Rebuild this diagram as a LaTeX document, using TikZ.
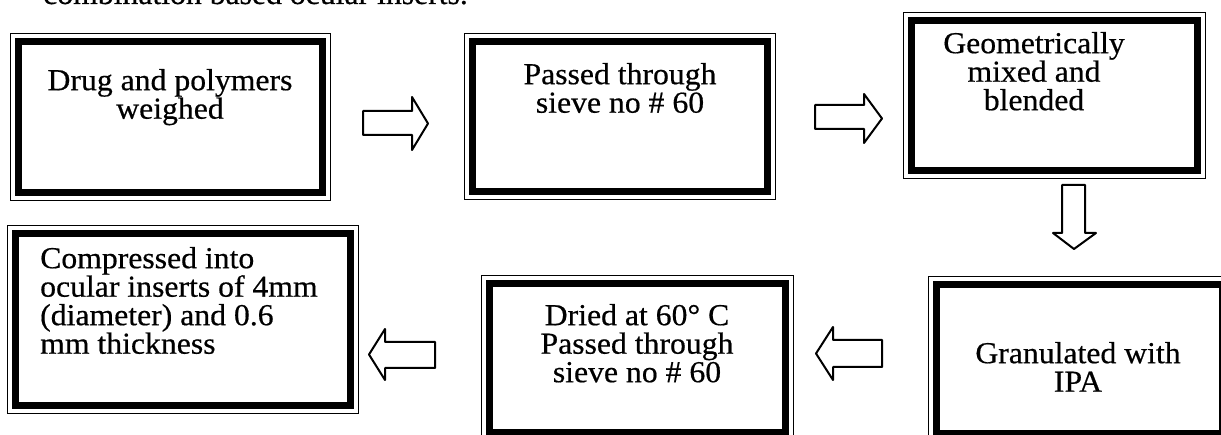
\documentclass[tikz,border=0pt]{standalone}
\usepackage{fontspec}
\setmainfont{Liberation Serif}[FakeStretch=1.04,FakeBold=0.5]
\tikzset{
  outerbox/.style={draw, line width=1.4pt, inner sep=0pt, anchor=north west},
  thickline/.style={line width=7pt},
  lbl/.style={inner sep=0pt, anchor=north, align=center, font=\fontsize{30.5}{28.5}\selectfont},
  blockarrow/.style={draw, line width=2pt, line join=round, fill=white},
}
\newcommand{\fs}{\rule{0pt}{22pt}}
\newcommand{\innerframe}[1]{\draw[thickline] ([shift={(8.5,8.5)}]#1.north west) rectangle ([shift={(-8.5,-8.5)}]#1.south east);}
\begin{document}
\begin{tikzpicture}[x=1pt,y=-1pt]
\useasboundingbox (0,0) rectangle (1221,435);
\begin{scope}
\clip (0,0) rectangle (1221,435);
% partial heading
\node[inner sep=0pt, anchor=base west, font=\fontsize{30.5}{28.5}\selectfont] (hdr) at (43,4) {combination based ocular inserts.};
% boxes
\node[outerbox, minimum width=320pt, minimum height=167pt] (b1) at (10,33) {};
\node[outerbox, minimum width=311pt, minimum height=166pt] (b2) at (464,33) {};
\node[outerbox, minimum width=302pt, minimum height=166pt] (b3) at (903,12) {};
\node[outerbox, minimum width=302pt, minimum height=165pt] (b4) at (928,276) {};
\node[outerbox, minimum width=312pt, minimum height=165pt] (b5) at (481,275) {};
\node[outerbox, minimum width=351pt, minimum height=188pt] (b6) at (7,225) {};
\innerframe{b1}
\innerframe{b2}
\innerframe{b3}
\innerframe{b4}
\innerframe{b5}
\innerframe{b6}
% texts
\node[lbl] (t1) at (170,68) {\fs Drug and polymers\\weighed};
\node[lbl] (t2) at (620,62) {\fs Passed through\\sieve no \# 60};
\node[lbl] (t3) at (1034,31) {\fs Geometrically\\mixed and\\blended};
\node[lbl] (t4) at (1078,341) {\fs Granulated with\\IPA};
\node[lbl] (t5) at (637,303) {\fs Dried at 60° C\\Passed through\\sieve no \# 60};
\node[lbl, anchor=north west, align=left] (t6) at (40,246) {\fs Compressed into\\ocular inserts of 4mm\\(diameter) and 0.6\\mm thickness};
% block arrows
\draw[blockarrow] (363,111) -- (412,111) -- (412,97) -- (428,123.5) -- (412,150) -- (412,135) -- (363,135) -- cycle;
\draw[blockarrow] (815,105) -- (864,105) -- (864,94) -- (882,118.5) -- (864,143) -- (864,129) -- (815,129) -- cycle;
\draw[blockarrow] (1062,185) -- (1085,185) -- (1085,233) -- (1096,233) -- (1074,249) -- (1053,233) -- (1062,233) -- cycle;
\draw[blockarrow] (882,340) -- (833,340) -- (833,327) -- (816,353.5) -- (833,380) -- (833,367) -- (882,367) -- cycle;
\draw[blockarrow] (435,342) -- (385,342) -- (385,329) -- (369,354.5) -- (385,380) -- (385,368) -- (435,368) -- cycle;
\end{scope}
\end{tikzpicture}
\end{document}
